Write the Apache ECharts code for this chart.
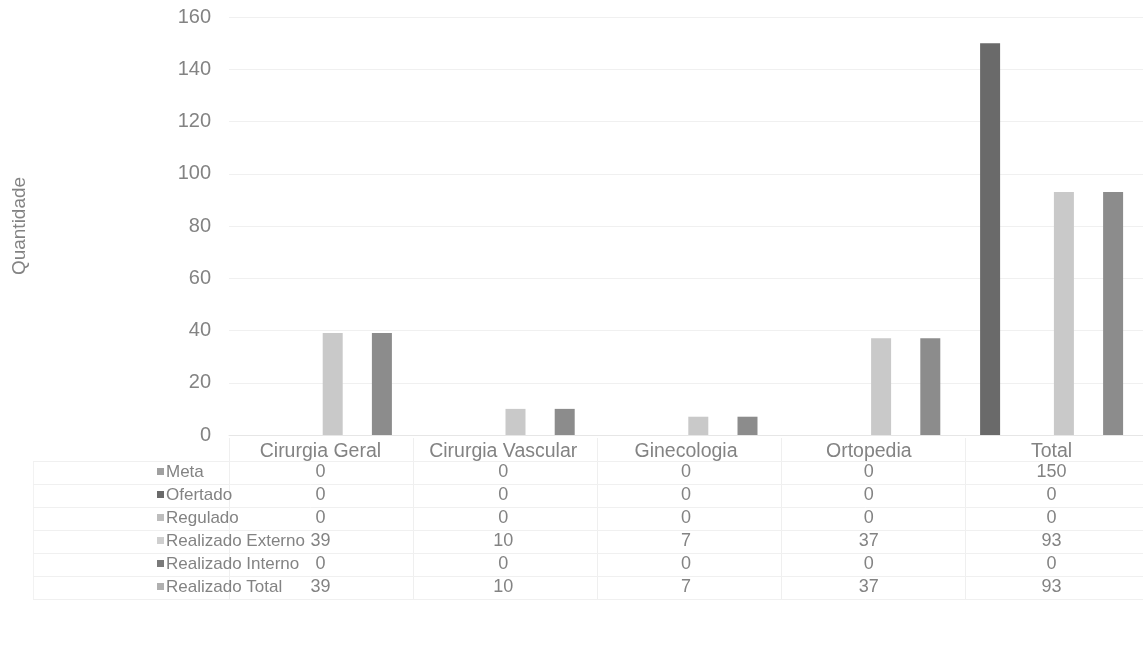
<!DOCTYPE html>
<html><head><meta charset="utf-8">
<script src="https://cdn.jsdelivr.net/npm/echarts@6/dist/echarts.min.js"></script>
<style>html,body{margin:0;padding:0;background:#fff}#c{width:1143px;height:652px}</style>
</head><body><div id="c"></div>
<script>
const categories = ['Cirurgia Geral', 'Cirurgia Vascular', 'Ginecologia', 'Ortopedia', 'Total'];
const seriesNames = ['Meta', 'Ofertado', 'Regulado', 'Realizado Externo', 'Realizado Interno', 'Realizado Total'];
const meta = [0, 0, 0, 0, 150];
const ofertado = [0, 0, 0, 0, 0];
const regulado = [0, 0, 0, 0, 0];
const realizadoExterno = [39, 10, 7, 37, 93];
const realizadoInterno = [0, 0, 0, 0, 0];
const realizadoTotal = [39, 10, 7, 37, 93];
const yTicks = [0, 20, 40, 60, 80, 100, 120, 140, 160];
const seriesValues = [meta, ofertado, regulado, realizadoExterno, realizadoInterno, realizadoTotal];
const colors = ['#6a6a6a', '#5e5e5e', '#b8b8b8', '#c9c9c9', '#7a7a7a', '#8c8c8c'];
const iconColors = ['#a0a0a0', '#6a6a6a', '#bdbdbd', '#cfcfcf', '#7a7a7a', '#b0b0b0'];

const FONT = 'Liberation Sans, Arial, sans-serif';
const TXT = '#838383';
const gridLeft = 229, gridTop = 17, gridBottomY = 435, gridWidth = 920;
const rowStart = 472, rowStep = 23;
const headFs = 19.5, valFs = 18, headMargin = 7, labMargin = 6;

const xAxes = [{
  type: 'category', data: categories, gridIndex: 0, position: 'bottom',
  axisLine: { show: true, lineStyle: { color: '#e6e6e6' } }, axisTick: { show: false },
  axisLabel: { color: TXT, fontSize: headFs, fontFamily: FONT, margin: headMargin, interval: 0 }
}];
seriesValues.forEach((vals, i) => {
  xAxes.push({
    type: 'category', data: vals.map(String), gridIndex: 0, position: 'bottom',
    offset: (rowStart - (gridBottomY + labMargin + valFs / 2)) + rowStep * i,
    axisLine: { show: false }, axisTick: { show: false },
    axisLabel: { color: TXT, fontSize: valFs, fontFamily: FONT, margin: labMargin, interval: 0 }
  });
});

const graphics = [];
const colW = gridWidth / categories.length;
for (let k = 0; k <= categories.length; k++) {
  const x = Math.round(gridLeft + colW * k) + 0.5;
  graphics.push({ type: 'line', shape: { x1: x, y1: 438, x2: x, y2: 600 }, style: { stroke: '#efefef', lineWidth: 1 } });
}
graphics.push({ type: 'line', shape: { x1: 33.5, y1: 462, x2: 33.5, y2: 600 }, style: { stroke: '#f2f2f2', lineWidth: 1 } });
for (let r = 0; r <= seriesNames.length; r++) {
  const y = Math.round(rowStart - rowStep / 2 + rowStep * r) + 0.5;
  graphics.push({ type: 'line', shape: { x1: 33, y1: y, x2: 1143, y2: y }, style: { stroke: '#f0f0f0', lineWidth: 1 } });
}
seriesNames.forEach((n, i) => {
  const yc = rowStart + rowStep * i;
  graphics.push({ type: 'rect', shape: { x: 157, y: yc - 4, width: 7, height: 7 }, style: { fill: iconColors[i] } });
  graphics.push({ type: 'text', x: 166, y: yc, style: { text: n, fill: TXT, fontSize: 17, fontFamily: FONT, verticalAlign: 'middle', textAlign: 'left' } });
});

const chart = echarts.init(document.getElementById('c'));
chart.setOption({
  animation: false,
  backgroundColor: '#fff',
  grid: { left: gridLeft, top: gridTop, width: gridWidth, height: gridBottomY - gridTop, containLabel: false },
  xAxis: xAxes,
  yAxis: {
    type: 'value', min: yTicks[0], max: yTicks[yTicks.length - 1], interval: 20,
    name: 'Quantidade', nameLocation: 'middle', nameGap: 200,
    nameTextStyle: { color: TXT, fontSize: 19, fontFamily: FONT },
    axisLine: { show: false }, axisTick: { show: false },
    axisLabel: { color: TXT, fontSize: 20, fontFamily: FONT, margin: 18 },
    splitLine: { lineStyle: { color: '#f0f0f0' } }
  },
  series: seriesNames.map((n, i) => ({
    name: n, type: 'bar', xAxisIndex: 0, data: seriesValues[i],
    barWidth: 20, barGap: '23%', itemStyle: { color: colors[i] }
  })),
  graphic: graphics
});
</script></body></html>
